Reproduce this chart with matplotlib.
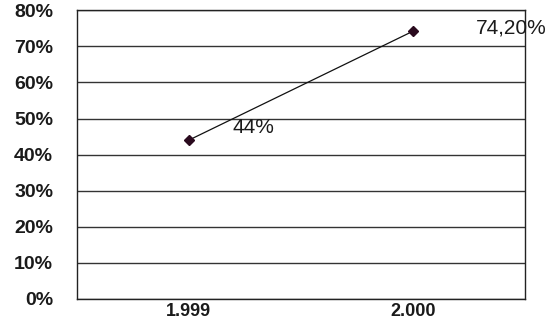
import matplotlib
matplotlib.use("Agg")
import matplotlib.pyplot as plt
from matplotlib.ticker import FuncFormatter

# Data
years = ["1.999", "2.000"]
values = [44.0, 74.2]
value_labels = ["44%", "74,20%"]
y_ticks = [0, 10, 20, 30, 40, 50, 60, 70, 80]

plt.rcParams["font.family"] = ["Liberation Sans", "DejaVu Sans"]

fig = plt.figure(figsize=(5.49, 3.24), dpi=100)
ax = fig.add_axes([0.140, 0.078, 0.816, 0.890])

x = list(range(len(years)))
ax.plot(x, values, color="#111111", linewidth=0.9, marker="D",
        markersize=5.5, markerfacecolor="#2a0a1e", markeredgecolor="#2a0a1e",
        zorder=3)

# Data labels, offset up and right of each point
offsets = [(65, 13), (98, 3)]
for xi, v, lab, off in zip(x, values, value_labels, offsets):
    ax.annotate(lab, (xi, v), xytext=off, textcoords="offset pixels",
                ha="center", va="center", fontsize=15, color="#1a1a1a",
                annotation_clip=False, zorder=4)

ax.set_xlim(-0.5, 1.5)
ax.set_ylim(0, 80)
ax.set_xticks(x)
ax.set_xticklabels(years)
ax.set_yticks(y_ticks)
ax.yaxis.set_major_formatter(FuncFormatter(lambda v, p: f"{int(v)}%"))

ax.grid(axis="y", color="#333333", linewidth=1.0)
ax.set_axisbelow(True)
for side in ["left", "bottom", "top", "right"]:
    ax.spines[side].set_color("#222222")
    ax.spines[side].set_linewidth(1.0)

ax.tick_params(axis="y", length=0, pad=17, labelsize=14, labelcolor="#1a1a1a")
ax.tick_params(axis="x", length=0, pad=3, labelsize=13, labelcolor="#1a1a1a")
for t in ax.get_xticklabels() + ax.get_yticklabels():
    t.set_fontweight("bold")

fig.savefig("out.png", dpi=100, facecolor="white")
